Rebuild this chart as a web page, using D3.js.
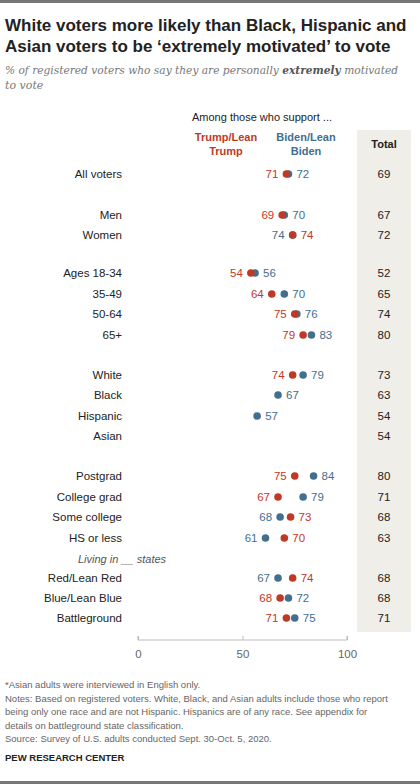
<!DOCTYPE html>
<html><head><meta charset="utf-8">
<script src="https://cdn.jsdelivr.net/npm/d3@7"></script>
<style>body{margin:0;background:#fff;font-family:"Liberation Sans",Arial,sans-serif}</style>
</head><body><svg id="chart" width="420" height="784"></svg>
<script>
const labels = ["All voters","Men","Women","Ages 18-34","35-49","50-64","65+","White","Black","Hispanic","Asian","Postgrad","College grad","Some college","HS or less","Red/Lean Red","Blue/Lean Blue","Battleground"];
const rowY = [174,215,235,273,294,314,335,375,395,416,436,476,497,517,538,578,598,618];
const trump = [71,69,74,54,64,75,79,74,null,null,null,75,67,73,70,74,68,71];
const biden = [72,70,74,56,70,76,83,79,67,57,null,84,79,68,61,67,72,75];
const total = [69,67,72,52,65,74,80,73,63,54,54,80,71,68,63,68,68,71];
const ticks = [0,50,100];

const red = "#bf3927", blue = "#436f8e";
const svg = d3.select("#chart");
const x = d3.scaleLinear().domain([0,100]).range([138,347]);

svg.append("rect").attr("x",0).attr("y",0).attr("width",420).attr("height",3).attr("fill","#777");
svg.append("rect").attr("x",0).attr("y",781).attr("width",420).attr("height",3).attr("fill","#777");
svg.append("text").attr("x",5).attr("y",31).attr("font-size",17).attr("font-weight","bold").attr("fill","#222").text("White voters more likely than Black, Hispanic and");
svg.append("text").attr("x",5).attr("y",52).attr("font-size",17).attr("font-weight","bold").attr("fill","#222").text("Asian voters to be ‘extremely motivated’ to vote");
const sub = svg.append("text").attr("x",5).attr("y",74).attr("font-size",11).attr("font-style","italic").attr("fill","#777").attr("font-family","DejaVu Serif, serif")
  .attr("textLength",393).attr("lengthAdjust","spacingAndGlyphs");
sub.append("tspan").text("% of registered voters who say they are personally ");
sub.append("tspan").attr("font-weight","bold").attr("fill","#555").text("extremely");
sub.append("tspan").text(" motivated");
svg.append("text").attr("x",5).attr("y",89).attr("font-size",11).attr("font-style","italic").attr("fill","#777").attr("font-family","DejaVu Serif, serif").text("to vote");

svg.append("rect").attr("x",357).attr("y",130).attr("width",54).attr("height",502).attr("fill","#f0eee9");
svg.append("text").attr("x",262).attr("y",121).attr("text-anchor","middle").attr("font-size",11).attr("fill","#222").text("Among those who support ...");
[["Trump/Lean",141],["Trump",155]].forEach(d=>svg.append("text").attr("x",226).attr("y",d[1]).attr("text-anchor","middle").attr("font-size",11).attr("font-weight","bold").attr("fill",red).text(d[0]));
[["Biden/Lean",141],["Biden",155]].forEach(d=>svg.append("text").attr("x",306).attr("y",d[1]).attr("text-anchor","middle").attr("font-size",11).attr("font-weight","bold").attr("fill",blue).text(d[0]));
svg.append("text").attr("x",384).attr("y",148).attr("text-anchor","middle").attr("font-size",11).attr("font-weight","bold").attr("fill","#222").text("Total");

svg.append("text").attr("x",78).attr("y",563).attr("font-size",11).attr("font-style","italic").attr("fill","#555").text("Living in __ states");

const rows = svg.selectAll("g.row").data(labels).join("g").attr("class","row");
rows.append("text").attr("x",122).attr("y",(d,i)=>rowY[i]+4).attr("text-anchor","end").attr("font-size",11.5).attr("fill","#222").text(d=>d);
rows.append("text").attr("x",384).attr("y",(d,i)=>rowY[i]+4).attr("text-anchor","middle").attr("font-size",11.5).attr("fill","#222").text((d,i)=>total[i]);

labels.forEach((d,i)=>{
  const pts = [];
  if (biden[i]!=null) pts.push({v:biden[i],c:blue});
  if (trump[i]!=null) pts.push({v:trump[i],c:red});
  pts.forEach(p=>svg.append("circle").attr("cx",x(p.v)).attr("cy",rowY[i]).attr("r",3.8).attr("fill",p.c));
  let lo, hi;
  if (pts.length==2){
    const b = pts[0], t = pts[1];
    if (t.v < b.v){lo=t;hi=b;} else {lo=b;hi=t;}
  } else if (pts.length==1){hi=pts[0];}
  if (lo) svg.append("text").attr("x",x(lo.v)-8).attr("y",rowY[i]+4).attr("text-anchor","end").attr("font-size",11.5).attr("fill",lo.c).text(lo.v);
  if (hi) svg.append("text").attr("x",x(hi.v)+8).attr("y",rowY[i]+4).attr("text-anchor","start").attr("font-size",11.5).attr("fill",hi.c).text(hi.v);
});

const ax = svg.append("g").attr("transform","translate(0,640)")
  .call(d3.axisBottom(x).tickValues(ticks).tickSize(-4).tickPadding(10));
ax.select(".domain").attr("stroke","#bbb").attr("d","M138,-4V0H347V-4");
ax.selectAll(".tick line").attr("stroke","#bbb");
ax.selectAll("text").attr("font-size",11.5).attr("fill","#666").attr("font-family","Liberation Sans, Arial");

const notes = ["*Asian adults were interviewed in English only.",
"Notes: Based on registered voters. White, Black, and Asian adults include those who report",
"being only one race and are not Hispanic. Hispanics are of any race. See appendix for",
"details on battleground state classification.",
"Source: Survey of U.S. adults conducted Sept. 30-Oct. 5, 2020."];
notes.forEach((n,i)=>svg.append("text").attr("x",5).attr("y",688+i*13.5).attr("font-size",9.5).attr("fill","#666").text(n));
svg.append("text").attr("x",5).attr("y",761).attr("font-size",9.5).attr("font-weight","bold").attr("fill","#222").text("PEW RESEARCH CENTER");
</script></body></html>
